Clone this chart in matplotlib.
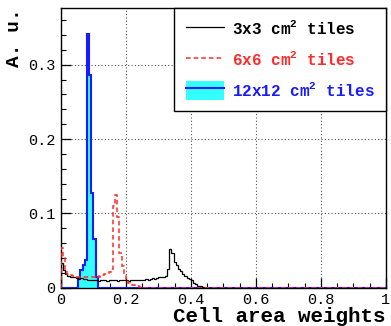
import matplotlib
matplotlib.use("Agg")
import matplotlib.pyplot as plt
from matplotlib.lines import Line2D
from matplotlib.patches import Patch
from matplotlib.legend_handler import HandlerTuple
from matplotlib.ticker import MultipleLocator, FuncFormatter
import numpy as np

# histogram binning: 150 bins over [0, 1]
nbins = 150
edges = np.linspace(0, 1, nbins + 1)

# 3x3 cm^2 tiles (bins 0..66, rest empty)
w3x3 = [0.034, 0.024, 0.019, 0.016, 0.015, 0.014, 0.014, 0.013, 0.012, 0.013,
        0.012, 0.012, 0.011, 0.011, 0.010, 0.011, 0.010, 0.009, 0.010, 0.011,
        0.010, 0.009, 0.010, 0.010, 0.011, 0.010, 0.009, 0.010, 0.010, 0.011,
        0.010, 0.009, 0.010, 0.011, 0.010, 0.011, 0.010, 0.011, 0.011, 0.012,
        0.011, 0.012, 0.013, 0.012, 0.013, 0.014, 0.014, 0.015, 0.016, 0.026,
        0.052, 0.047, 0.035, 0.031, 0.025, 0.022, 0.019, 0.016, 0.013, 0.012,
        0.010, 0.007, 0.005, 0.003, 0.002, 0.001, 0.0]

# 6x6 cm^2 tiles
w6x6 = [0.054, 0.040, 0.024, 0.019, 0.017, 0.016, 0.015, 0.014, 0.015, 0.015,
        0.014, 0.015, 0.015, 0.014, 0.015, 0.015, 0.016, 0.015, 0.016, 0.017,
        0.018, 0.019, 0.021, 0.025, 0.110, 0.125, 0.095, 0.047, 0.029, 0.017,
        0.010, 0.007, 0.005, 0.004, 0.003, 0.002, 0.001, 0.001, 0.0]

# 12x12 cm^2 tiles (first non-empty bin is 8)
w12x12_start = 8
w12x12 = [0.013, 0.024, 0.031, 0.037, 0.341, 0.286, 0.127, 0.066, 0.015, 0.0]

labels = ["3x3 cm$^{\\mathbf{2}}$ tiles", "6x6 cm$^{\\mathbf{2}}$ tiles",
          "12x12 cm$^{\\mathbf{2}}$ tiles"]


def full(vals, start=0):
    h = np.zeros(nbins)
    h[start:start + len(vals)] = vals
    return h


h3 = full(w3x3)
h6 = full(w6x6)
h12 = full(w12x12, w12x12_start)

mono = "Liberation Mono"
plt.rcParams["mathtext.fontset"] = "custom"
plt.rcParams["mathtext.bf"] = "Liberation Mono:bold"
plt.rcParams["mathtext.rm"] = "Liberation Mono:bold"

fig = plt.figure(figsize=(3.91, 3.26), dpi=100)
ax = fig.add_axes([0.156, 0.117, 0.831, 0.858])

ax.grid(True, which="major", color="#555555", linestyle=(0, (1, 2)), linewidth=0.8)
ax.set_axisbelow(True)

ax.stairs(h12, edges, fill=True, color="#33ffff", zorder=2)
ax.stairs(h12, edges, color="#1a1aff", linewidth=1.5, zorder=3)
ax.stairs(h3, edges, color="black", linewidth=0.9, zorder=4)
ax.stairs(h6, edges, color="#ff2a2a", linewidth=1.1, linestyle=(0, (3, 2)), zorder=5)

ax.set_xlim(0, 1)
ax.set_ylim(0, 0.376)
ax.xaxis.set_major_locator(MultipleLocator(0.2))
ax.xaxis.set_minor_locator(MultipleLocator(0.05))
ax.yaxis.set_major_locator(MultipleLocator(0.1))
ax.yaxis.set_minor_locator(MultipleLocator(0.02))
fmt = FuncFormatter(lambda v, p: "0" if abs(v) < 1e-9 else ("1" if abs(v - 1) < 1e-9 else f"{v:.1f}"))
ax.xaxis.set_major_formatter(fmt)
ax.yaxis.set_major_formatter(fmt)
ax.tick_params(which="both", direction="in", top=False, right=False)
ax.tick_params(which="major", length=7, width=0.9, labelsize=11, pad=4)
ax.tick_params(which="minor", length=3.5, width=0.8)
for t in ax.get_xticklabels() + ax.get_yticklabels():
    t.set_fontfamily(mono)
for s in ax.spines.values():
    s.set_linewidth(1.0)

ax.set_xlabel("Cell area weights", loc="right", fontfamily=mono,
              fontweight="bold", fontsize=15, labelpad=0)
ax.set_ylabel("A. u.", loc="top", fontfamily=mono, fontweight="bold",
              fontsize=14, labelpad=4)

h_black = Line2D([], [], color="black", linewidth=0.9)
h_red = Line2D([], [], color="#ff2a2a", linewidth=1.1, linestyle=(0, (3, 2)))
h_blue = (Patch(facecolor="#33ffff", edgecolor="none"),
          Line2D([], [], color="#1a1aff", linewidth=1.5))
leg = ax.legend([h_black, h_red, h_blue], labels, loc="upper right",
                bbox_to_anchor=(1.0, 1.0), borderaxespad=0,
                prop={"family": mono, "weight": "bold", "size": 11.5},
                handler_map={tuple: HandlerTuple(ndivide=1, pad=0)},
                handlelength=2.4, handleheight=1.5, labelspacing=0.7,
                borderpad=0.7, handletextpad=0.5, fancybox=False,
                framealpha=1, edgecolor="black")
leg.get_frame().set_linewidth(1.0)
for t, c in zip(leg.get_texts(), ["black", "#ff2a2a", "#1a1aff"]):
    t.set_color(c)

fig.savefig("out.png", dpi=100)
